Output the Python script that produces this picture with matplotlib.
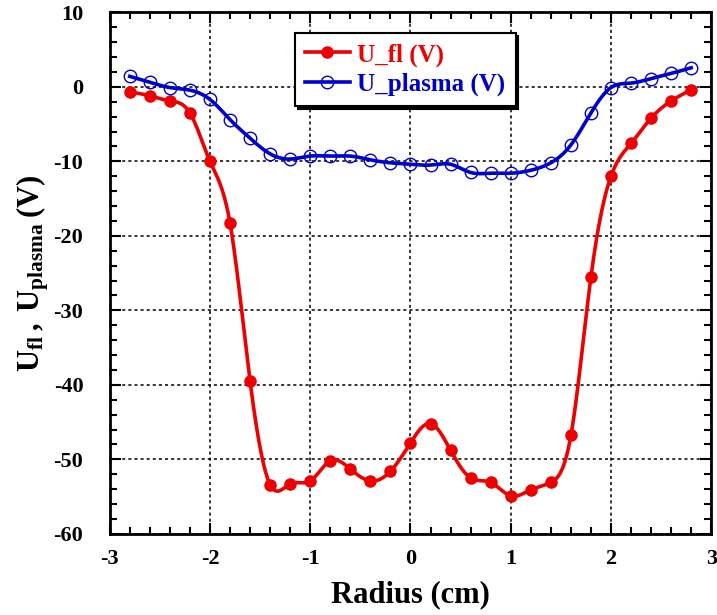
import matplotlib
matplotlib.use("Agg")
import matplotlib.pyplot as plt
from matplotlib.ticker import MultipleLocator
import numpy as np

plt.rcParams['font.family'] = ['Liberation Serif', 'DejaVu Serif']
plt.rcParams['font.weight'] = 'bold'
plt.rcParams['axes.unicode_minus'] = False
plt.rcParams['mathtext.fontset'] = 'custom'
plt.rcParams['mathtext.rm'] = 'Liberation Serif:bold'
plt.rcParams['mathtext.bf'] = 'Liberation Serif:bold'

# probe positions (cm)
radius = [-2.8, -2.6, -2.4, -2.2, -2.0, -1.8, -1.6, -1.4, -1.2, -1.0,
          -0.8, -0.6, -0.4, -0.2, 0.0, 0.2, 0.4, 0.6, 0.8, 1.0,
          1.2, 1.4, 1.6, 1.8, 2.0, 2.2, 2.4, 2.6, 2.8]

# floating potential (V)
u_fl = [-0.7, -1.2, -1.9, -3.5, -10.0, -18.3, -39.5, -53.4, -53.3, -52.9,
        -50.2, -51.3, -52.9, -51.6, -47.8, -45.2, -48.8, -52.5, -53.1, -54.9,
        -54.1, -53.1, -46.8, -25.5, -12.0, -7.6, -4.2, -1.9, -0.4]

# plasma potential (V)
u_plasma = [1.4, 0.6, -0.1, -0.45, -1.7, -4.4, -6.9, -9.0, -9.7, -9.3,
            -9.3, -9.3, -9.8, -10.2, -10.4, -10.5, -10.4, -11.5, -11.6, -11.6,
            -11.2, -10.2, -7.8, -3.5, -0.1, 0.5, 1.1, 1.8, 2.55]


def natural_spline(x, y, n=600):
    # natural cubic spline through all points
    x = np.asarray(x, float)
    y = np.asarray(y, float)
    k = len(x)
    h = np.diff(x)
    A = np.zeros((k, k))
    b = np.zeros(k)
    A[0, 0] = 1
    A[-1, -1] = 1
    for i in range(1, k - 1):
        A[i, i - 1] = h[i - 1]
        A[i, i] = 2 * (h[i - 1] + h[i])
        A[i, i + 1] = h[i]
        b[i] = 3 * ((y[i + 1] - y[i]) / h[i] - (y[i] - y[i - 1]) / h[i - 1])
    c = np.linalg.solve(A, b)
    xs = np.linspace(x[0], x[-1], n)
    idx = np.clip(np.searchsorted(x, xs) - 1, 0, k - 2)
    dx = xs - x[idx]
    bb = (y[1:] - y[:-1]) / h - h * (2 * c[:-1] + c[1:]) / 3
    dd = (c[1:] - c[:-1]) / (3 * h)
    ys = y[idx] + bb[idx] * dx + c[idx] * dx ** 2 + dd[idx] * dx ** 3
    return xs, ys


fig = plt.figure(figsize=(7.17, 6.15), dpi=100)
ax = fig.add_axes([0.153, 0.132, 0.839, 0.848])

red = '#ee0000'
blue = '#0000cc'

xs, ys = natural_spline(radius, u_fl)
ax.plot(xs, ys, color=red, lw=2.6, zorder=3)
ax.plot(radius, u_fl, 'o', color=red, ms=8, zorder=4)
ax.plot([], [], '-o', color=red, lw=2.6, ms=8, label='U_fl (V)')

xs, ys = natural_spline(radius, u_plasma)
ax.plot(xs, ys, color=blue, lw=2.6, zorder=3)
ax.plot(radius, u_plasma, 'o', mfc='none', mec=blue, mew=1.0, ms=9, zorder=4)
ax.plot([], [], '-o', color=blue, mfc='none', mec=blue, lw=2.6, ms=9, label='U_plasma (V)')

ax.set_xlim(-3, 3)
ax.set_ylim(-60, 10)
ax.xaxis.set_major_locator(MultipleLocator(1))
ax.xaxis.set_minor_locator(MultipleLocator(0.2))
ax.yaxis.set_major_locator(MultipleLocator(10))
ax.yaxis.set_minor_locator(MultipleLocator(2))
ax.tick_params(which='both', direction='in', top=True, right=True, width=1.5)
ax.tick_params(which='major', length=8, labelsize=16)
ax.tick_params(axis='x', which='major', pad=11)
ax.tick_params(axis='y', which='major', pad=19)
ax.tick_params(which='minor', length=5)
for s in ax.spines.values():
    s.set_linewidth(2)

ax.grid(True, which='major', color='black', ls=(0, (2, 2)), lw=1.1)

ax.set_xlabel('Radius (cm)', fontsize=22, fontweight='bold', labelpad=8)
ax.set_ylabel(r'$\mathbf{U_{fl}\,,\,U_{plasma}\,(V)}$', fontsize=22, labelpad=2)

leg = ax.legend(loc='upper left', bbox_to_anchor=(0.308, 0.960), borderaxespad=0,
                fancybox=False, framealpha=1, edgecolor='black',
                prop={'size': 18, 'weight': 'bold'}, borderpad=0.4,
                handlelength=1.8, handletextpad=0.3, labelspacing=0.25,
                shadow={'color': 'black', 'alpha': 1})
leg.get_frame().set_linewidth(1.5)
for txt, col in zip(leg.get_texts(), [red, blue]):
    txt.set_color(col)

fig.savefig('out.png', dpi=100)
